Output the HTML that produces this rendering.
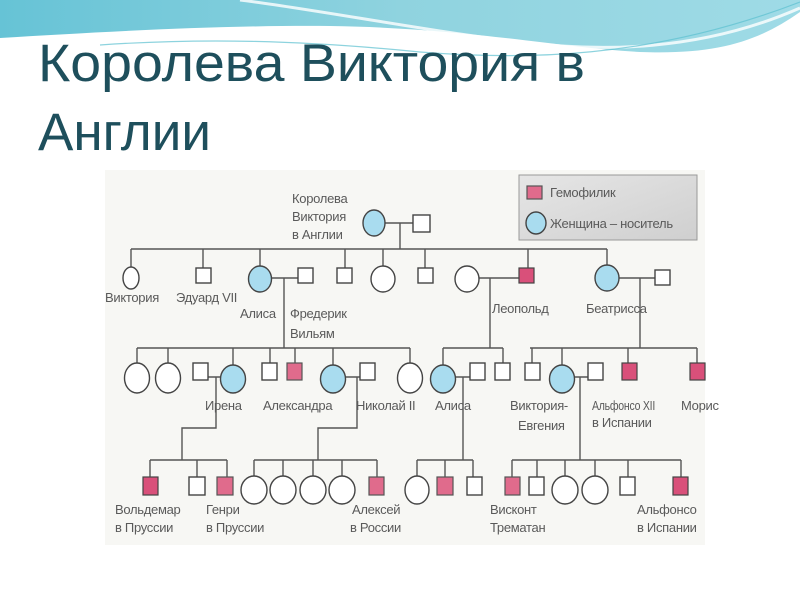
<!DOCTYPE html>
<html><head><meta charset="utf-8"><style>
html,body{margin:0;padding:0;background:#fff;width:800px;height:600px;overflow:hidden}
svg{display:block}
.t{font-family:"Liberation Sans","DejaVu Sans",sans-serif;font-size:13px;letter-spacing:-0.3px;fill:#5a5a5a}
.l{stroke:#555;stroke-width:1.4;fill:none}
.w{fill:#fff;stroke:#444;stroke-width:1.4}
.b{fill:#a9dcef;stroke:#444;stroke-width:1.4}
.p{fill:#e06b8c;stroke:#555;stroke-width:1.2}
.pd{fill:#d9507a;stroke:#444;stroke-width:1.2}
</style></head><body>
<svg width="800" height="600" viewBox="0 0 800 600" xmlns="http://www.w3.org/2000/svg">
<defs>
<linearGradient id="g" x1="0" y1="0" x2="1" y2="0"><stop offset="0" stop-color="#66c3d6"/><stop offset="0.5" stop-color="#8fd3df"/><stop offset="1" stop-color="#9fdbe6"/></linearGradient>
<linearGradient id="lg" x1="0" y1="0" x2="1" y2="1"><stop offset="0" stop-color="#e6e6e6"/><stop offset="1" stop-color="#cfcfcf"/></linearGradient>
</defs>
<path d="M0,0 H800 V12 C760,40 720,55 640,52 C560,48 470,28 330,26 C220,25 100,32 0,38 Z" fill="url(#g)"/>
<path d="M240,0 C320,10 420,30 520,42 C600,52 700,52 800,8" fill="none" stroke="#fff" stroke-width="3" opacity="0.8"/>
<path d="M100,45 C200,38 300,40 420,52 C520,60 650,60 800,2" fill="none" stroke="#5cc0d0" stroke-width="1.2" opacity="0.7"/>
<text x="38" y="81" font-family="Liberation Sans, sans-serif" font-size="53" fill="#1e4f5c" textLength="547" lengthAdjust="spacingAndGlyphs">Королева Виктория в</text>
<text x="38" y="150" font-family="Liberation Sans, sans-serif" font-size="53" fill="#1e4f5c">Англии</text>
<rect x="105" y="170" width="600" height="375" fill="#f7f7f4"/>
<!-- legend -->
<rect x="519" y="175" width="178" height="65" fill="url(#lg)" stroke="#999"/>
<rect x="527" y="186" width="15" height="13" class="p"/>
<text x="550" y="197" class="t">Гемофилик</text>
<ellipse cx="536" cy="223" rx="10" ry="11" class="b"/>
<text x="550" y="228" class="t">Женщина – носитель</text>
<!-- gen 1 -->
<text x="292" y="203" class="t">Королева</text>
<text x="292" y="221" class="t">Виктория</text>
<text x="292" y="239" class="t">в Англии</text>
<path class="l" d="M385,223 H413 M400,223 V249 M131,249 H607 M131,249 V267 M203,249 V268 M260,249 V266 M345,249 V268 M383,249 V266 M425,249 V268 M528,249 V268 M607,249 V266"/>
<ellipse cx="374" cy="223" rx="11" ry="13" class="b"/>
<rect x="413" y="215" width="17" height="17" class="w"/>
<!-- gen 2 -->
<path class="l" d="M271,278 H298 M284,278 V348 M479,278 H519 M490,278 V348 M619,278 H655 M640,278 V348"/>
<ellipse cx="131" cy="278" rx="8" ry="11" class="w"/>
<rect x="196" y="268" width="15" height="15" class="w"/>
<ellipse cx="260" cy="279" rx="11.5" ry="13" class="b"/>
<rect x="298" y="268" width="15" height="15" class="w"/>
<rect x="337" y="268" width="15" height="15" class="w"/>
<ellipse cx="383" cy="279" rx="12" ry="13" class="w"/>
<rect x="418" y="268" width="15" height="15" class="w"/>
<ellipse cx="467" cy="279" rx="12" ry="13" class="w"/>
<rect x="519" y="268" width="15" height="15" class="pd"/>
<ellipse cx="607" cy="278" rx="12" ry="13" class="b"/>
<rect x="655" y="270" width="15" height="15" class="w"/>
<text x="105" y="302" class="t">Виктория</text>
<text x="176" y="302" class="t">Эдуард VII</text>
<text x="240" y="318" class="t">Алиса</text>
<text x="290" y="318" class="t">Фредерик</text>
<text x="290" y="338" class="t">Вильям</text>
<text x="492" y="313" class="t">Леопольд</text>
<text x="586" y="313" class="t">Беатрисса</text>
<!-- gen 3 -->
<path class="l" d="M137,348 H410 M137,348 V363 M168,348 V363 M233,348 V365 M270,348 V363 M295,348 V363 M333,348 V365 M410,348 V363
M443,348 H503 M443,348 V365 M503,348 V363
M530,348 H697 M532,348 V363 M562,348 V365 M628,348 V363 M697,348 V363
M208,377 H221 M216,377 V428 H182 V460
M345,377 H360 M357,377 V428 H318 V460
M455,377 H470 M463,377 V460
M574,377 H588 M580,377 V460"/>
<ellipse cx="137" cy="378" rx="12.5" ry="15" class="w"/>
<ellipse cx="168" cy="378" rx="12.5" ry="15" class="w"/>
<rect x="193" y="363" width="15" height="17" class="w"/>
<ellipse cx="233" cy="379" rx="12.5" ry="14" class="b"/>
<rect x="262" y="363" width="15" height="17" class="w"/>
<rect x="287" y="363" width="15" height="17" class="p"/>
<ellipse cx="333" cy="379" rx="12.5" ry="14" class="b"/>
<rect x="360" y="363" width="15" height="17" class="w"/>
<ellipse cx="410" cy="378" rx="12.5" ry="15" class="w"/>
<ellipse cx="443" cy="379" rx="12.5" ry="14" class="b"/>
<rect x="470" y="363" width="15" height="17" class="w"/>
<rect x="495" y="363" width="15" height="17" class="w"/>
<rect x="525" y="363" width="15" height="17" class="w"/>
<ellipse cx="562" cy="379" rx="12.5" ry="14" class="b"/>
<rect x="588" y="363" width="15" height="17" class="w"/>
<rect x="622" y="363" width="15" height="17" class="pd"/>
<rect x="690" y="363" width="15" height="17" class="pd"/>
<text x="205" y="410" class="t">Ирена</text>
<text x="263" y="410" class="t">Александра</text>
<text x="356" y="410" class="t">Николай II</text>
<text x="435" y="410" class="t">Алиса</text>
<text x="510" y="410" class="t">Виктория-</text>
<text x="518" y="430" class="t">Евгения</text>
<text x="592" y="410" class="t" textLength="63" lengthAdjust="spacingAndGlyphs">Альфонсо XII</text>
<text x="592" y="427" class="t">в Испании</text>
<text x="681" y="410" class="t">Морис</text>
<!-- gen 4 -->
<path class="l" d="M150,460 H227 M150,460 V477 M197,460 V477 M227,460 V477
M254,460 H377 M254,460 V476 M283,460 V476 M313,460 V476 M342,460 V476 M377,460 V477
M417,460 H473 M417,460 V476 M445,460 V477 M473,460 V477
M512,460 H681 M512,460 V477 M537,460 V477 M565,460 V476 M595,460 V476 M628,460 V477 M681,460 V477"/>
<rect x="143" y="477" width="15" height="18" class="pd"/>
<rect x="189" y="477" width="16" height="18" class="w"/>
<rect x="217" y="477" width="16" height="18" class="p"/>
<ellipse cx="254" cy="490" rx="13" ry="14" class="w"/>
<ellipse cx="283" cy="490" rx="13" ry="14" class="w"/>
<ellipse cx="313" cy="490" rx="13" ry="14" class="w"/>
<ellipse cx="342" cy="490" rx="13" ry="14" class="w"/>
<rect x="369" y="477" width="15" height="18" class="p"/>
<ellipse cx="417" cy="490" rx="12" ry="14" class="w"/>
<rect x="437" y="477" width="16" height="18" class="p"/>
<rect x="467" y="477" width="15" height="18" class="w"/>
<rect x="505" y="477" width="15" height="18" class="p"/>
<rect x="529" y="477" width="15" height="18" class="w"/>
<ellipse cx="565" cy="490" rx="13" ry="14" class="w"/>
<ellipse cx="595" cy="490" rx="13" ry="14" class="w"/>
<rect x="620" y="477" width="15" height="18" class="w"/>
<rect x="673" y="477" width="15" height="18" class="pd"/>
<text x="115" y="514" class="t">Вольдемар</text>
<text x="115" y="532" class="t">в Пруссии</text>
<text x="206" y="514" class="t">Генри</text>
<text x="206" y="532" class="t">в Пруссии</text>
<text x="352" y="514" class="t">Алексей</text>
<text x="350" y="532" class="t">в России</text>
<text x="490" y="514" class="t">Висконт</text>
<text x="490" y="532" class="t">Трематан</text>
<text x="637" y="514" class="t">Альфонсо</text>
<text x="637" y="532" class="t">в Испании</text>
</svg>
</body></html>
